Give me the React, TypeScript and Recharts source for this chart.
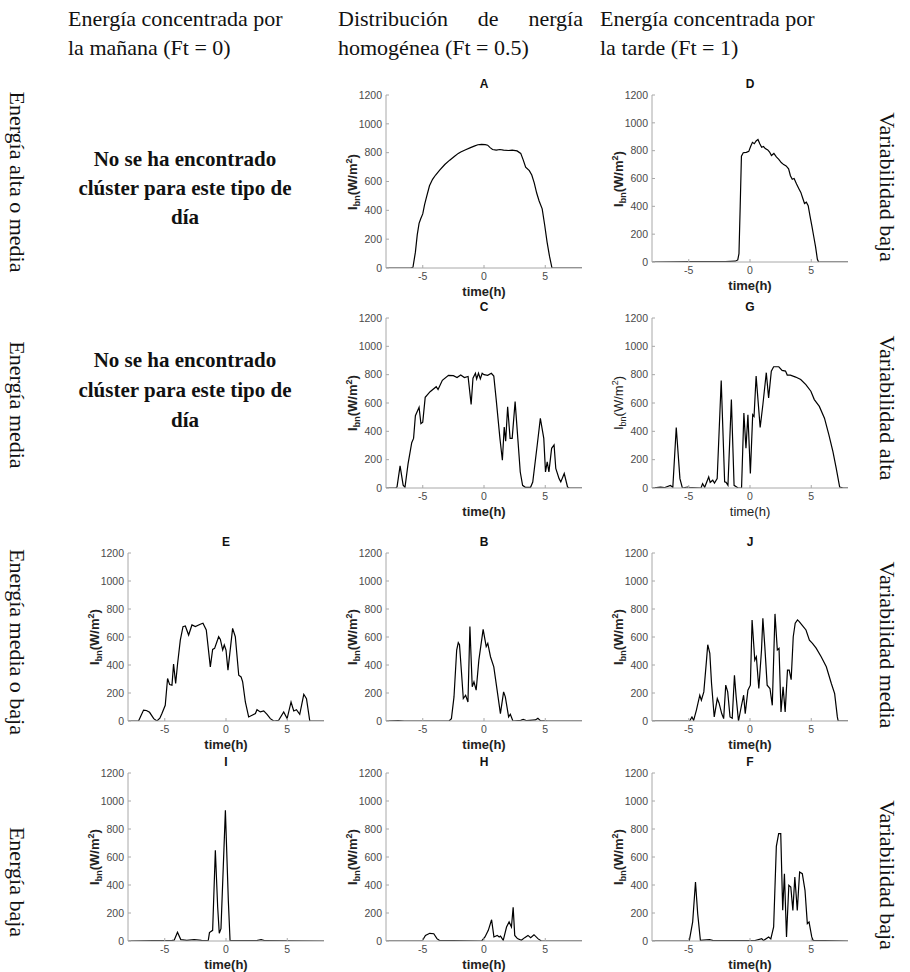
import React from 'react';
import { LineChart, Line, XAxis, YAxis } from 'recharts';

type Point = [number, number];

// axis ticks shared by every panel
const timeTicks = [-5, 0, 5];
const ibnTicks = [0, 200, 400, 600, 800, 1000, 1200];

// [time (h), Ibn (W/m2)] for each cluster
const seriesA: Point[] = [
  [-8, 0], [-6, 0], [-5.8, 5], [-5.6, 110], [-5.45, 230], [-5.3, 310], [-5.15, 345], [-5.0, 375],
  [-4.85, 440], [-4.7, 490], [-4.45, 570], [-4.2, 615], [-3.95, 645], [-3.6, 680], [-3.2, 718],
  [-2.8, 748], [-2.4, 775], [-2.1, 795], [-1.9, 805], [-1.5, 820], [-1.1, 835], [-0.8, 845],
  [-0.5, 855], [-0.2, 858], [0.1, 856], [0.3, 852], [0.5, 835], [0.7, 822], [1.0, 818], [1.3, 822],
  [1.6, 818], [2.0, 815], [2.3, 818], [2.7, 812], [3.0, 795], [3.2, 750], [3.4, 700], [3.7, 675],
  [3.9, 645], [4.1, 590], [4.3, 520], [4.5, 465], [4.75, 410], [4.95, 300], [5.15, 180],
  [5.35, 80], [5.55, 0], [8, 0],
];

const seriesD: Point[] = [
  [-8, 0], [-5, 2], [-2, 3], [-1.2, 6], [-1.0, 15], [-0.9, 60], [-0.8, 400], [-0.7, 760],
  [-0.55, 785], [-0.3, 788], [-0.1, 795], [0.05, 830], [0.2, 860], [0.35, 850], [0.5, 870],
  [0.65, 880], [0.8, 850], [0.95, 825], [1.1, 830], [1.25, 815], [1.45, 805], [1.6, 790],
  [1.75, 765], [1.95, 780], [2.15, 755], [2.35, 738], [2.55, 715], [2.75, 700], [2.95, 690],
  [3.15, 670], [3.3, 620], [3.45, 595], [3.6, 600], [3.8, 560], [4.0, 525], [4.15, 500],
  [4.3, 460], [4.45, 420], [4.6, 430], [4.75, 405], [4.9, 330], [5.05, 260], [5.2, 185],
  [5.35, 110], [5.5, 20], [5.6, 0], [8, 0],
];

const seriesC: Point[] = [
  [-8, 0], [-7.2, 0], [-7.1, 8], [-6.85, 156], [-6.6, 20], [-6.45, 5], [-6.2, 170], [-5.9, 320],
  [-5.75, 350], [-5.6, 510], [-5.3, 570], [-5.15, 455], [-5.0, 465], [-4.8, 640], [-4.4, 680],
  [-3.9, 715], [-3.75, 695], [-3.4, 760], [-2.9, 795], [-2.5, 793], [-2.2, 780], [-1.9, 798],
  [-1.6, 780], [-1.3, 787], [-1.05, 590], [-0.9, 775], [-0.7, 810], [-0.6, 770], [-0.45, 810],
  [-0.3, 770], [-0.15, 810], [0, 800], [0.3, 795], [0.6, 810], [0.8, 790], [1.0, 620],
  [1.3, 350], [1.5, 196], [1.65, 430], [1.77, 330], [1.93, 574], [2.13, 350], [2.3, 350],
  [2.54, 610], [2.76, 350], [2.96, 113], [3.15, 19], [3.37, 5], [3.8, 5], [3.98, 42],
  [4.34, 300], [4.6, 491], [4.88, 350], [5.02, 114], [5.16, 185], [5.3, 114], [5.52, 280],
  [5.72, 304], [5.86, 138], [6.13, 66], [6.27, 43], [6.55, 102], [6.82, 7], [6.96, 0], [8, 0],
];

const seriesG: Point[] = [
  [-8, 0], [-7.3, 6], [-7.0, 2], [-6.5, 18], [-6.3, 5], [-6.02, 427], [-5.72, 66], [-5.52, 0],
  [-5.1, 7], [-4.8, 2], [-4.0, 0], [-3.87, 31], [-3.7, 5], [-3.37, 78], [-3.25, 40], [-3.04, 55],
  [-2.9, 35], [-2.68, 66], [-2.35, 759], [-2.07, 43], [-1.95, 40], [-1.8, 19], [-1.52, 624],
  [-1.3, 19], [-0.97, 0], [-0.69, 0], [-0.5, 529], [-0.33, 280], [-0.17, 517], [0.03, 102],
  [0.22, 517], [0.33, 505], [0.5, 790], [0.83, 427], [1.05, 588], [1.33, 814], [1.52, 636],
  [1.74, 825], [1.93, 856], [2.35, 856], [2.62, 830], [2.9, 825], [3.04, 797], [3.3, 797],
  [3.73, 783], [4.14, 766], [4.56, 730], [4.97, 683], [5.25, 624], [5.66, 576], [6.08, 493],
  [6.44, 375], [6.77, 256], [7.04, 138], [7.32, 7], [7.6, 0], [8, 0],
];

const seriesE: Point[] = [
  [-8, 0], [-7.14, 0], [-6.73, 78], [-6.5, 75], [-6.24, 62], [-5.9, 17], [-5.64, 0], [-5.4, 20],
  [-5.23, 53], [-4.96, 112], [-4.77, 304], [-4.6, 260], [-4.41, 256], [-4.28, 406], [-4.11, 268],
  [-3.95, 411], [-3.73, 578], [-3.51, 674], [-3.32, 679], [-3.05, 614], [-2.78, 686], [-2.5, 674],
  [-2.1, 691], [-1.88, 698], [-1.61, 650], [-1.28, 387], [-1.09, 511], [-0.93, 519], [-0.6, 602],
  [-0.46, 583], [-0.27, 507], [-0.14, 543], [0, 507], [0.16, 363], [0.54, 662], [0.76, 602],
  [1.04, 327], [1.23, 315], [1.36, 280], [1.58, 136], [1.85, 29], [2.13, 41], [2.4, 53],
  [2.53, 81], [2.8, 65], [3.08, 72], [3.35, 48], [3.62, 17], [3.9, 0], [4.3, 5], [4.71, 65],
  [4.99, 17], [5.31, 136], [5.53, 72], [5.75, 81], [6.02, 48], [6.35, 191], [6.57, 160],
  [6.84, 0], [8, 0],
];

const seriesB: Point[] = [
  [-8, 0], [-7, 3], [-6.5, 0], [-2.85, 0], [-2.66, 17], [-2.45, 172], [-2.23, 507], [-2.1, 560],
  [-2.0, 545], [-1.85, 363], [-1.69, 160], [-1.5, 184], [-1.31, 136], [-1.15, 674], [-0.96, 244],
  [-0.82, 280], [-0.64, 220], [-0.42, 435], [-0.07, 655], [0.18, 531], [0.31, 555], [0.53, 459],
  [0.8, 387], [1.07, 220], [1.34, 53], [1.6, 208], [1.74, 172], [2.01, 29], [2.15, 48],
  [2.36, 0], [3.0, 5], [3.2, 12], [3.5, 2], [4.2, 8], [4.4, 20], [4.6, 3], [5.2, 0], [8, 0],
];

const seriesJ: Point[] = [
  [-8, 0], [-4.93, 0], [-4.74, 29], [-4.6, 5], [-4.38, 76], [-4.1, 184], [-3.97, 148],
  [-3.77, 208], [-3.55, 435], [-3.45, 545], [-3.28, 483], [-3.14, 268], [-2.92, 29], [-2.67, 160],
  [-2.53, 129], [-2.31, 53], [-2.15, 17], [-1.98, 256], [-1.82, 208], [-1.63, 29], [-1.45, 20],
  [-1.27, 327], [-1.13, 172], [-0.94, 0], [-0.72, 100], [-0.52, 184], [-0.39, 53], [-0.17, 220],
  [0.03, 256], [0.17, 722], [0.39, 435], [0.52, 459], [0.72, 232], [0.94, 507], [1.05, 734],
  [1.21, 531], [1.4, 256], [1.63, 232], [1.82, 112], [2.04, 765], [2.23, 507], [2.37, 519],
  [2.53, 65], [2.7, 244], [2.87, 65], [3.06, 363], [3.2, 363], [3.36, 295], [3.53, 602],
  [3.69, 698], [3.88, 722], [4.02, 710], [4.3, 680], [4.57, 650], [4.85, 578], [5.1, 555],
  [5.4, 520], [5.81, 459], [6.23, 387], [6.64, 268], [6.91, 196], [7.13, 29], [7.2, 0], [8, 0],
];

const seriesI: Point[] = [
  [-8, 0], [-6, 3], [-4.4, 4], [-4.23, 5], [-3.96, 62], [-3.69, 10], [-3.2, 5], [-2.6, 10],
  [-2.0, 5], [-1.45, 3], [-1.35, 60], [-1.09, 76], [-0.87, 648], [-0.68, 243], [-0.55, 55],
  [-0.41, 88], [-0.05, 933], [0.19, 290], [0.33, 5], [2.5, 3], [2.87, 10], [3.2, 2], [8, 0],
];

const seriesH: Point[] = [
  [-8, 0], [-5.05, 0], [-4.78, 40], [-4.43, 55], [-4.1, 52], [-3.84, 17], [-3.65, 5], [-0.19, 0],
  [0.08, 29], [0.35, 76], [0.62, 152], [0.81, 29], [1.08, 40], [1.24, 29], [1.35, 35], [1.57, 5],
  [1.84, 100], [2.05, 136], [2.24, 100], [2.38, 240], [2.51, 40], [2.73, 17], [3.05, 5],
  [3.32, 24], [3.59, 40], [3.81, 24], [4.08, 45], [4.4, 17], [4.68, 0], [8, 0],
];

const seriesF: Point[] = [
  [-8, 0], [-4.96, 0], [-4.68, 136], [-4.45, 421], [-4.27, 195], [-4.05, 5], [-3.3, 10],
  [-3.0, 3], [-1, 2], [0.41, 3], [0.96, 17], [1.1, 3], [1.52, 29], [1.7, 15], [1.93, 100],
  [2.15, 676], [2.34, 767], [2.51, 767], [2.67, 219], [2.81, 481], [2.98, 29], [3.17, 398],
  [3.33, 386], [3.5, 219], [3.66, 457], [3.86, 219], [4.05, 493], [4.27, 481], [4.49, 362],
  [4.68, 124], [4.82, 136], [5.04, 29], [5.15, 5], [8, 0],
];

const SANS = '"Liberation Sans", Arial, sans-serif';
const SERIF = '"Liberation Serif", "Times New Roman", serif';

const PLOT_W = 196;
const GUTTER_L = 60;
const GUTTER_T = 22;
const GUTTER_R = 6;
const GUTTER_B = 40;
const TICK_LEN = 3;
const TICK_GAP = 4;
const BOX_GRAY = '#a8a8a8';
const LABEL_GRAY = '#4a4a4a';

// Matlab-style ticks: short marks pointing into the box
const BottomTick = (props: any) => {
  const { x, y, payload } = props;
  const axisY = y - TICK_GAP;
  return (
    <g>
      <line x1={x} y1={axisY} x2={x} y2={axisY - TICK_LEN} stroke={BOX_GRAY} />
      <text x={x} y={y} dy="0.8em" textAnchor="middle" fill={LABEL_GRAY} fontSize={10.5} fontFamily={SANS}>
        {payload.value}
      </text>
    </g>
  );
};

const LeftTick = (props: any) => {
  const { x, y, payload } = props;
  const axisX = x + TICK_GAP;
  return (
    <g>
      <line x1={axisX} y1={y} x2={axisX + TICK_LEN} y2={y} stroke={BOX_GRAY} />
      <text x={x} y={y} dy="0.35em" textAnchor="end" fill={LABEL_GRAY} fontSize={10.5} fontFamily={SANS}>
        {payload.value}
      </text>
    </g>
  );
};

const TopTick = (props: any) => {
  const { x, y } = props;
  return <line x1={x} y1={y} x2={x} y2={y + TICK_LEN} stroke={BOX_GRAY} />;
};

const RightTick = (props: any) => {
  const { x, y } = props;
  return <line x1={x} y1={y} x2={x - TICK_LEN} y2={y} stroke={BOX_GRAY} />;
};

interface PanelProps {
  title: string;
  series: Point[];
  left: number;
  top: number;
  height: number;
  boldLabels?: boolean;
}

const Panel = ({ title, series, left, top, height, boldLabels = true }: PanelProps) => {
  const data = series.map(([t, v]) => ({ t, v }));
  const w = GUTTER_L + PLOT_W + GUTTER_R;
  const h = GUTTER_T + height + GUTTER_B;
  const weight = boldLabels ? 700 : 400;

  return (
    <div style={{ position: 'absolute', left: left - GUTTER_L, top: top - GUTTER_T, width: w, height: h }}>
      <LineChart width={w} height={h} data={data} margin={{ top: GUTTER_T, right: GUTTER_R, bottom: 0, left: 0 }}>
        <XAxis
          dataKey="t"
          type="number"
          domain={[-8, 8]}
          ticks={timeTicks}
          allowDataOverflow
          interval={0}
          height={GUTTER_B}
          tickSize={0}
          tickMargin={TICK_GAP}
          tickLine={false}
          stroke={BOX_GRAY}
          tick={<BottomTick />}
        />
        <XAxis
          xAxisId="top"
          orientation="top"
          dataKey="t"
          type="number"
          domain={[-8, 8]}
          ticks={timeTicks}
          allowDataOverflow
          interval={0}
          height={0}
          tickSize={0}
          tickMargin={0}
          tickLine={false}
          stroke={BOX_GRAY}
          tick={<TopTick />}
        />
        <YAxis
          type="number"
          domain={[0, 1200]}
          ticks={ibnTicks}
          allowDataOverflow
          interval={0}
          width={GUTTER_L}
          tickSize={0}
          tickMargin={TICK_GAP}
          tickLine={false}
          stroke={BOX_GRAY}
          tick={<LeftTick />}
        />
        <YAxis
          yAxisId="right"
          orientation="right"
          type="number"
          domain={[0, 1200]}
          ticks={ibnTicks}
          allowDataOverflow
          interval={0}
          width={0}
          tickSize={0}
          tickMargin={0}
          tickLine={false}
          stroke={BOX_GRAY}
          tick={<RightTick />}
        />
        <Line
          dataKey="v"
          type="linear"
          stroke="#000"
          strokeWidth={1.2}
          dot={false}
          activeDot={false}
          isAnimationActive={false}
        />
      </LineChart>

      <div
        style={{
          position: 'absolute',
          left: GUTTER_L,
          width: PLOT_W,
          top: GUTTER_T - 18,
          textAlign: 'center',
          font: `700 12px/14px ${SANS}`,
          color: '#111',
        }}
      >
        {title}
      </div>

      <div
        style={{
          position: 'absolute',
          left: GUTTER_L,
          width: PLOT_W,
          top: GUTTER_T + height + 16,
          textAlign: 'center',
          font: `${weight} 13px/16px ${SANS}`,
          color: '#222',
        }}
      >
        time(h)
      </div>

      <div
        style={{
          position: 'absolute',
          left: GUTTER_L - 33,
          top: GUTTER_T + height / 2,
          transform: 'translate(-50%, -50%) rotate(-90deg)',
          whiteSpace: 'nowrap',
          font: `${weight} 13px/16px ${SANS}`,
          color: '#222',
        }}
      >
        I<span style={{ fontSize: 9, position: 'relative', top: 3 }}>bn</span>(W/m
        <span style={{ fontSize: 9, position: 'relative', top: -5 }}>2</span>)
      </div>
    </div>
  );
};

const SideLabel = ({ text, x, y }: { text: string; x: number; y: number }) => (
  <div
    style={{
      position: 'absolute',
      left: x,
      top: y,
      transform: 'translate(-50%, -50%) rotate(90deg)',
      whiteSpace: 'nowrap',
      font: `22px/26px ${SERIF}`,
      color: '#111',
    }}
  >
    {text}
  </div>
);

const NoCluster = ({ top, lineHeight }: { top: number; lineHeight: number }) => (
  <div
    style={{
      position: 'absolute',
      left: 60,
      width: 250,
      top,
      textAlign: 'center',
      font: `700 21px/${lineHeight}px ${SERIF}`,
      color: '#111',
    }}
  >
    No se ha encontrado
    <br />
    clúster para este tipo de
    <br />
    día
  </div>
);

const headerStyle = (left: number): React.CSSProperties => ({
  position: 'absolute',
  left,
  top: 4,
  width: 245,
  font: `22px/29px ${SERIF}`,
  color: '#111',
});

export default function App() {
  return (
    <div
      style={{
        position: 'absolute',
        left: 0,
        top: 0,
        width: 910,
        height: 972,
        background: '#fff',
        overflow: 'hidden',
      }}
    >
      <div style={headerStyle(68)}>
        <div>Energía concentrada por</div>
        <div>la mañana (Ft = 0)</div>
      </div>
      <div style={headerStyle(338)}>
        <div style={{ textAlign: 'justify', textAlignLast: 'justify' }}>Distribución de nergía</div>
        <div>homogénea (Ft = 0.5)</div>
      </div>
      <div style={headerStyle(600)}>
        <div>Energía concentrada por</div>
        <div>la tarde (Ft = 1)</div>
      </div>

      <SideLabel text="Energía alta o media" x={17} y={182} />
      <SideLabel text="Energía media" x={17} y={405} />
      <SideLabel text="Energía media o baja" x={17} y={642} />
      <SideLabel text="Energía baja" x={17} y={882} />

      <SideLabel text="Variabilidad baja" x={887} y={187} />
      <SideLabel text="Variabilidad alta" x={887} y={408} />
      <SideLabel text="Variabilidad media" x={887} y={645} />
      <SideLabel text="Variabilidad baja" x={887} y={875} />

      <NoCluster top={145} lineHeight={29} />
      <NoCluster top={345} lineHeight={30} />

      <Panel title="A" series={seriesA} left={386} top={95} height={173} />
      <Panel title="D" series={seriesD} left={652} top={95} height={167} />
      <Panel title="C" series={seriesC} left={386} top={318} height={170} />
      <Panel title="G" series={seriesG} left={652} top={318} height={170} boldLabels={false} />
      <Panel title="E" series={seriesE} left={128} top={553} height={168} />
      <Panel title="B" series={seriesB} left={386} top={553} height={168} />
      <Panel title="J" series={seriesJ} left={652} top={553} height={168} />
      <Panel title="I" series={seriesI} left={128} top={773} height={168} />
      <Panel title="H" series={seriesH} left={386} top={773} height={168} />
      <Panel title="F" series={seriesF} left={652} top={773} height={168} />
    </div>
  );
}
